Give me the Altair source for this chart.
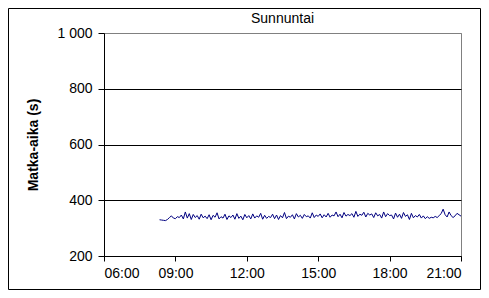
import altair as alt
import pandas as pd

# Travel time (s) every 5 minutes, 08:20 .. 21:00
travel = [
    330, 329, 328, 327, 331, 338, 344, 336, 334, 341, 338, 347,
    333, 358, 336, 352, 331, 349, 338, 345, 332, 350, 337, 343,
    334, 348, 330, 346, 339, 355, 333, 341, 336, 350, 331, 344,
    338, 347, 332, 352, 335, 343, 330, 349, 337, 345, 333, 351,
    336, 344, 339, 353, 332, 346, 335, 342, 338, 350, 334, 347,
    331, 345, 337, 356, 334, 343, 339, 348, 333, 352, 340, 346,
    335, 349, 341, 344, 336, 355, 338, 347, 342, 351, 337, 348,
    340, 353, 339, 347, 344, 358, 341, 350, 337, 356, 343, 349,
    345, 352, 339, 360, 342, 350, 346, 357, 340, 353, 347, 351,
    338, 355, 344, 349, 336, 358, 341, 352, 345, 347, 333, 354,
    339, 350, 335, 356, 342, 348, 331, 353, 337, 345, 340, 349,
    336, 344, 334, 341, 335, 339,
    337, 342, 338, 345, 352, 368, 348, 340, 358, 345, 338, 344, 353, 348, 343,
]
x_ticks = [6, 9, 12, 15, 18, 21]
y_ticks = [200, 400, 600, 800, 1000]
title_text = ["Sunnuntai"]

times = pd.date_range("2000-01-02 08:20", periods=len(travel), freq="5min")
df = pd.DataFrame({"h": times.hour + times.minute / 60.0, "s": travel})

FONT = "Liberation Sans"

line = alt.Chart(df).mark_line(color="#000080", strokeWidth=1).encode(
    x=alt.X(
        "h:Q",
        scale=alt.Scale(domain=[6, 21], nice=False, zero=False),
        axis=alt.Axis(
            values=x_ticks,
            labelExpr="(datum.value < 10 ? '0' : '') + datum.value + ':00'",
            title=None,
            grid=False,
            tickSize=5,
            labelPadding=5,
            domainColor="black",
            tickColor="black",
        ),
    ),
    y=alt.Y(
        "s:Q",
        scale=alt.Scale(domain=[200, 1000], nice=False, zero=False),
        axis=alt.Axis(
            values=y_ticks,
            labelExpr="datum.value >= 1000 ? '1 000' : datum.label",
            title="Matka-aika (s)",
            grid=True,
            gridColor=alt.condition("datum.value == 1000", alt.value("#808080"), alt.value("black")),
            gridWidth=1,
            tickSize=6,
            labelPadding=6,
            titlePadding=16,
            domainColor="black",
            tickColor="black",
        ),
    ),
)

border = alt.Chart(pd.DataFrame({"a": [0]})).mark_rect(
    filled=False, stroke="black", strokeWidth=1
).encode(
    x=alt.value(-95.5), x2=alt.value(376.5), y=alt.value(-24.5), y2=alt.value(256.5)
)

title = alt.Chart(pd.DataFrame({"t": title_text})).mark_text(
    font=FONT, fontSize=14, color="black", align="center", baseline="middle"
).encode(text="t:N", x=alt.value(178.5), y=alt.value(-14))

chart = (
    alt.layer(border, line, title)
    .properties(
        width=357,
        height=223,
        autosize="none",
        padding={"left": 96, "top": 25, "right": 20, "bottom": 34},
    )
    .configure_view(stroke="#808080", strokeWidth=1)
    .configure_axis(
        labelFont=FONT,
        labelFontSize=14,
        labelColor="black",
        titleFont=FONT,
        titleFontSize=14,
        titleFontWeight="bold",
        titleColor="black",
    )
)

chart.save("out.html", embed_options={"renderer": "svg", "actions": False})
